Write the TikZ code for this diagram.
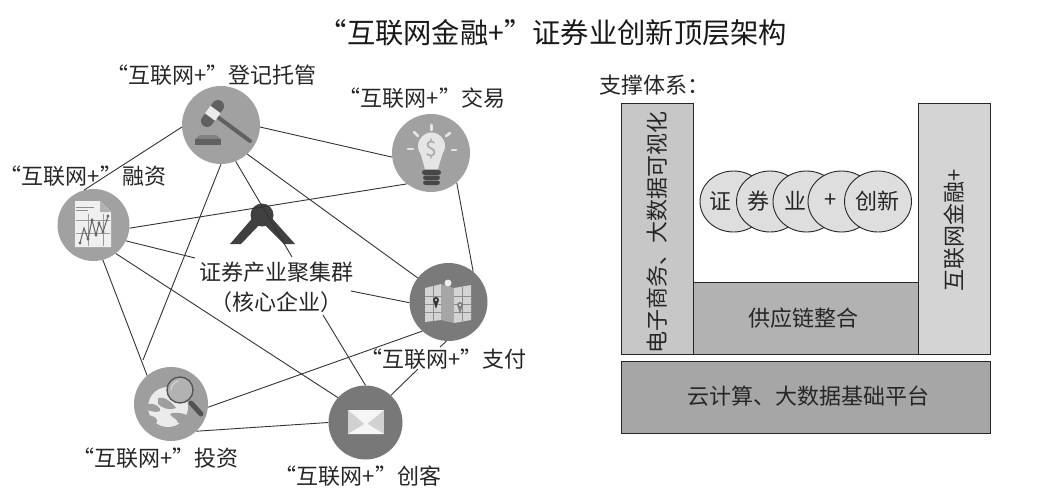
\documentclass[tikz,border=0pt]{standalone}
\usepackage{fontspec}
\usetikzlibrary{shapes.geometric}
\setmainfont{Noto Sans CJK SC}
\begin{document}
\begin{tikzpicture}[x=1pt,y=-1pt,
 lbl/.style={inner sep=0pt,font=\fontsize{22}{30}\selectfont,text=black!85},
 hubc/.style={circle,inner sep=0pt,draw=none},
 lnk/.style={draw=black!80,line width=0.9pt},
 box/.style={draw=black!85,line width=0.9pt,inner sep=0pt,minimum width=0pt},
 ball/.style={ellipse,draw=black!85,fill=black!13,line width=0.9pt,minimum width=67pt,minimum height=61pt,inner sep=0pt}]
\useasboundingbox (0,0) rectangle (1046,493);
\node[inner sep=0pt,font=\fontsize{28.3}{32}\selectfont,text=black!90] (title) at (553,33) {“互联网金融+”证券业创新顶层架构};
\node[hubc,fill=black!37,minimum size=78pt] (reg) at (221,125) {};
\node[hubc,fill=black!37,minimum size=72pt] (fin) at (93.5,225) {};
\node[hubc,fill=black!37,minimum size=78pt] (tra) at (431,153) {};
\node[hubc,fill=black!52,minimum size=78pt] (pay) at (448.5,302) {};
\node[hubc,fill=black!38,minimum size=74pt] (inv) at (171,404) {};
\node[hubc,fill=black!53,minimum size=74pt] (mak) at (365.5,422.5) {};
\node[hubc,fill=black!75,minimum size=23pt] (hub) at (262,215) {};
\fill[black!75] (230,244) -- (262,207) -- (295,244) -- (284,244) -- (262,222) -- (241,244) -- cycle;
\node[lbl,align=center] (core) at (276,287) {证券产业聚集群\\（核心企业）};
\node[lbl] (lreg) at (211.5,75) {“互联网+”登记托管};
\node[lbl] (ltra) at (422,98) {“互联网+”交易};
\node[lbl] (lfin) at (83,176) {“互联网+”融资};
\node[lbl] (lpay) at (443.5,359) {“互联网+”支付};
\node[lbl] (linv) at (155.5,458) {“互联网+”投资};
\node[lbl] (lmak) at (358,476) {“互联网+”创客};
\coordinate (rcore) at (292,257);
\coordinate (rinv) at (143,360);
\coordinate (fcore) at (195,258);
\coordinate (cpay) at (351,291);
\coordinate (cmak) at (323,315);
\coordinate (pm1) at (440,347);
\coordinate (pm2) at (418,369);
\draw[lnk] (reg.183) -- (fin.105);
\draw[lnk] (reg.357) -- (tra.186);
\draw[lnk] (reg.270) -- (rinv);
\draw[lnk] (reg.292) -- (rcore);
\draw[lnk] (reg.312) -- (pay.142);
\draw[lnk] (fin.355) -- (tra.232);
\draw[lnk] (fin.334) -- (fcore);
\draw[lnk] (fin.285) -- (inv.130);
\draw[lnk] (fin.308) -- (mak.138);
\draw[lnk] (tra.311) -- (pay.51);
\draw[lnk] (cpay) -- (pay.181);
\draw[lnk] (cmak) -- (mak.90);
\draw[lnk] (pay.228) -- (inv.355);
\draw[lnk] (pay.267) -- (pm1);
\draw[lnk] (pm2) -- (mak.47);
\draw[lnk] (inv.313) -- (mak.180);
% gavel
\draw[black!62,line width=4pt,line cap=round] (219,118) -- (250,141);
\draw[black!62,line width=12pt,line cap=round] (218,106) -- (207,121);
\draw[black!8,line width=12.5pt] (215.5,109.5) -- (210,117);
\fill[black!50] (200,135) -- (216,135) -- (221,139) -- (195,139) -- cycle;
\fill[black!62] (195,139) rectangle (221,145);
% chart
\fill[black!6] (75,201) -- (100,201) -- (111,212) -- (111,247) -- (75,247) -- cycle;
\fill[black!30] (100,201) -- (111,212) -- (100,212) -- cycle;
\foreach \yy in {220,233}{\draw[black!40,line width=0.5pt] (76,\yy) -- (110,\yy);}
\foreach \xx in {88,103}{\draw[black!40,line width=0.5pt] (\xx,214) -- (\xx,246);}
\draw[black!45,line width=0.7pt] (76,207) -- (94,207);
\draw[black!45,line width=0.7pt] (76,210) -- (88,210);
\draw[black!60,line width=1pt] (80,243) -- (84,228) -- (88,239) -- (92,220) -- (96,235) -- (99,223) -- (103,232) -- (108,216);
\foreach \p in {(80,243),(88,239),(92,220),(96,235),(99,223),(103,232),(108,216)}{\fill[black!60] \p circle (1.6pt);}
% bulb
\fill[black!10] (431.5,146) circle (13.5pt);
\fill[black!10] (420,152) -- (443,152) -- (438,169) -- (425,169) -- cycle;
\node[inner sep=0pt,font=\fontsize{21}{22}\selectfont,text=black!35] (dollar) at (431.5,149) {\$};
\fill[black!72,rounded corners=2.5pt] (422,170) rectangle (441,175);
\fill[black!72,rounded corners=2.5pt] (423,175.5) rectangle (440,180);
\fill[black!72,rounded corners=2.5pt] (423,180.5) rectangle (440,185);
\draw[black!10,line width=2.6pt,line cap=round] (431.7,125) -- (431.7,130);
\draw[black!10,line width=2.6pt,line cap=round] (414,132) -- (418,136);
\draw[black!10,line width=2.6pt,line cap=round] (450,133) -- (446,136);
\draw[black!10,line width=2.6pt,line cap=round] (408,149) -- (413,149);
\draw[black!10,line width=2.6pt,line cap=round] (452,150) -- (456,150);
% map
\fill[black!17] (425,288) -- (441,284) -- (441,320) -- (425,322) -- cycle;
\fill[black!35] (441,284) -- (454,288) -- (454,323) -- (441,320) -- cycle;
\fill[black!17] (454,288) -- (471,285) -- (471,320) -- (454,323) -- cycle;
\foreach \yy in {296,304,312}{\draw[black!45,line width=0.5pt] (425,\yy) -- (441,\yy); \draw[black!45,line width=0.5pt] (454,\yy) -- (471,\yy);}
\draw[black!45,line width=0.5pt] (433,286) -- (433,321);
\draw[black!45,line width=0.5pt] (462,287) -- (462,321);
\fill[black!7] (448,283) circle (3.5pt);
\fill[black!80] (436,300) circle (3pt);
\fill[black!80] (433.5,301) -- (438.5,301) -- (436,309) -- cycle;
\fill[black!7] (436,300) circle (1.2pt);
\fill[black!50] (460,305) circle (3pt);
\fill[black!50] (457.5,306) -- (462.5,306) -- (460,314) -- cycle;
\fill[black!7] (460,305) circle (1.2pt);
% globe + glass
\fill[black!8] (168,407) circle (20pt);
\fill[black!38] (158,398) .. controls (164,396) and (172,402) .. (176,408) .. controls (170,411) and (162,408) .. (158,404) -- cycle;
\fill[black!38] (148,404) .. controls (154,402) and (162,408) .. (160,411) .. controls (156,413) and (150,411) .. (148,410) -- cycle;
\fill[black!38] (147,416) .. controls (154,414) and (160,420) .. (156,424) -- (150,424) -- cycle;
\fill[black!38] (170,414) .. controls (176,411) and (186,414) .. (188,416) .. controls (188,422) and (182,424) .. (178,423) .. controls (178,419) and (172,418) .. (170,414) -- cycle;
\fill[black!30] (180,390) circle (13pt);
\draw[black!68,line width=1.3pt] (180,390) circle (13pt);
\draw[black!15,line width=1pt,line cap=round] (171,390) .. controls (171,386) and (174,382) .. (178,381);
\draw[black!68,line width=5pt,line cap=round] (191,403) -- (201,414);
% envelope
\fill[black!18] (348,410) rectangle (384,434);
\fill[black!4] (348,410) -- (384,410) -- (366,425) -- cycle;
\fill[black!4] (348,434) -- (384,434) -- (366,423) -- cycle;
% right block
\node[lbl,anchor=west] (sup) at (599,85) {支撑体系：};
\node[box,fill=black!22,minimum width=72.5pt,minimum height=251pt,anchor=north west] (left) at (620.7,103) {};
\node[box,fill=black!17,minimum width=72.5pt,minimum height=251pt,anchor=north west] (right) at (917.7,103) {};
\node[box,fill=black!30,minimum width=224.5pt,minimum height=72pt,anchor=north west] (mid) at (693.2,282) {};
\node[box,fill=black!35,minimum width=369.5pt,minimum height=72.5pt,anchor=north west] (base) at (620.7,360.7) {};
\node[lbl,rotate=90] (tl) at (657,232) {电子商务、大数据可视化};
\node[lbl,rotate=90] (tr) at (954,230) {互联网金融+};
\node[lbl] (tm) at (803,318) {供应链整合};
\node[lbl] (tb) at (808,396) {云计算、大数据基础平台};
\node[ball] (b1) at (733.5,201.5) {};
\node[ball] (b2) at (770,201.5) {};
\node[ball] (b3) at (806.5,201.5) {};
\node[ball] (b4) at (841.5,201.5) {};
\node[ball] (b5) at (878,201.5) {};
\node[lbl] (t1) at (720.7,201) {证};
\node[lbl] (t2) at (758,201) {券};
\node[lbl] (t3) at (795.7,201) {业};
\node[lbl] (t4) at (831,201) {+};
\node[lbl] (t5) at (877.3,201) {创新};
\end{tikzpicture}
\end{document}
